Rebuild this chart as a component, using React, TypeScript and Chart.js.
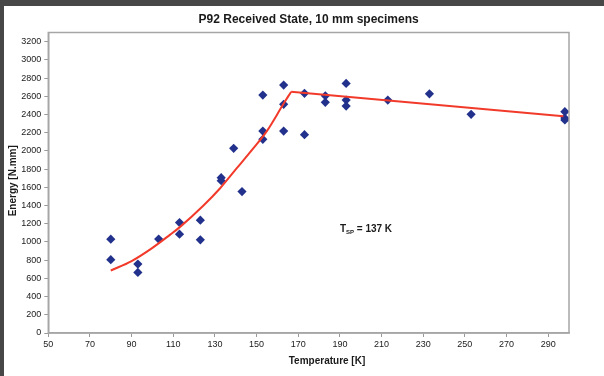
import React, { useEffect, useRef } from "react";
import { Chart, registerables } from "chart.js";

Chart.register(...registerables);

const titleText = "P92 Received State, 10 mm specimens";
const xAxisTitle = "Temperature [K]";
const yAxisTitle = "Energy [N.mm]";

const sampleTemps = [80, 80, 93, 93, 103, 113, 113, 123, 123, 133, 133, 139, 143, 153, 153, 153, 163, 163, 163, 173, 173, 183, 183, 193, 193, 193, 213, 233, 253, 298, 298, 298];
const sampleEnergies = [1030, 805, 757, 665, 1031, 1213, 1085, 1239, 1023, 1706, 1672, 2028, 1553, 2613, 2218, 2127, 2723, 2511, 2218, 2632, 2178, 2605, 2533, 2741, 2558, 2492, 2558, 2627, 2401, 2430, 2360, 2339];

const fitTemps = [80, 90, 100, 108.5, 113, 124.5, 132.5, 140.5, 148.5, 155, 163, 166.6];
const fitEnergies = [686, 790, 935, 1080, 1160, 1400, 1590, 1810, 2030, 2220, 2520, 2650];

const shelfTemps = [166.6, 297.3];
const shelfEnergies = [2650, 2380];

const xTicks = [50, 70, 90, 110, 130, 150, 170, 190, 210, 230, 250, 270, 290];
const yTicks = [0, 200, 400, 600, 800, 1000, 1200, 1400, 1600, 1800, 2000, 2200, 2400, 2600, 2800, 3000, 3200];
const xRange = [50, 300];
const yRange = [0, 3300];

const noteMain = "T";
const noteSub = "SP";
const noteRest = " = 137 K";
const notePos = [190, 1150];

const FONT = "'Liberation Sans', Arial, sans-serif";

const zip = (xs: number[], ys: number[]) => xs.map((x, i) => ({ x, y: ys[i] }));

const decorPlugin = {
  id: "decor",
  afterDatasetsDraw(chart: any) {
    const { ctx, chartArea, scales } = chart;
    ctx.save();
    ctx.strokeStyle = "#a6a6a6";
    ctx.lineWidth = 1.5;
    ctx.strokeRect(chartArea.left, chartArea.top, chartArea.right - chartArea.left, chartArea.bottom - chartArea.top);

    ctx.fillStyle = "#1a1a1a";
    ctx.font = `bold 12px ${FONT}`;
    ctx.textAlign = "center";
    ctx.textBaseline = "middle";
    ctx.fillText(titleText, (chartArea.left + chartArea.right) / 2, 14);

    ctx.font = `bold 10px ${FONT}`;
    ctx.fillText(xAxisTitle, 323, 355);

    ctx.save();
    ctx.translate(9, (chartArea.top + chartArea.bottom) / 2 - 2);
    ctx.rotate(-Math.PI / 2);
    ctx.fillText(yAxisTitle, 0, 0);
    ctx.restore();

    const px = scales.x.getPixelForValue(notePos[0]);
    const py = scales.y.getPixelForValue(notePos[1]);
    ctx.textAlign = "left";
    ctx.textBaseline = "alphabetic";
    ctx.font = `bold 10px ${FONT}`;
    ctx.fillText(noteMain, px, py + 4);
    let w = ctx.measureText(noteMain).width;
    ctx.font = `bold 6px ${FONT}`;
    ctx.fillText(noteSub, px + w, py + 6);
    w += ctx.measureText(noteSub).width;
    ctx.font = `bold 10px ${FONT}`;
    ctx.fillText(noteRest, px + w, py + 4);
    ctx.restore();
  },
};

export default function App() {
  const ref = useRef<HTMLCanvasElement | null>(null);

  useEffect(() => {
    document.body.style.margin = "0";
    document.body.style.background = "#474747";
    document.body.style.backgroundImage = "radial-gradient(circle, #383838 0 7px, transparent 8px)";
    document.body.style.backgroundSize = "29px 29px";
    const canvas = ref.current;
    if (!canvas) return;
    const chart = new Chart(canvas, {
      type: "scatter",
      data: {
        datasets: [
          {
            label: "fit",
            data: zip(fitTemps, fitEnergies),
            showLine: true,
            borderColor: "#f23a2a",
            borderWidth: 2,
            pointRadius: 0,
            cubicInterpolationMode: "monotone",
            fill: false,
          },
          {
            label: "shelf",
            data: zip(shelfTemps, shelfEnergies),
            showLine: true,
            borderColor: "#f23a2a",
            borderWidth: 2,
            pointRadius: 0,
            fill: false,
          },
          {
            label: "samples",
            data: zip(sampleTemps, sampleEnergies),
            pointStyle: "rectRot",
            pointRadius: 4.6,
            backgroundColor: "#22318c",
            borderColor: "#22318c",
            borderWidth: 0,
            showLine: false,
          },
        ],
      },
      options: {
        animation: false,
        responsive: false,
        devicePixelRatio: 1,
        layout: { padding: { top: 26.5, right: 35, left: 0, bottom: 0 } },
        plugins: {
          legend: { display: false },
          title: { display: false },
          tooltip: { enabled: false },
        },
        scales: {
          x: {
            type: "linear",
            min: xRange[0],
            max: xRange[1],
            afterBuildTicks: (s: any) => {
              s.ticks = xTicks.map((v) => ({ value: v }));
            },
            afterFit: (s: any) => {
              s.height = 43;
            },
            grid: { display: true, drawOnChartArea: false, drawTicks: true, tickLength: 4, color: "#9a9a9a" },
            border: { display: true, color: "#a6a6a6", width: 1.5 },
            ticks: {
              font: { family: FONT, size: 9 },
              color: "#1a1a1a",
              padding: 2,
              maxRotation: 0,
              autoSkip: false,
              callback: (v: any) => String(v),
            },
          },
          y: {
            type: "linear",
            min: yRange[0],
            max: yRange[1],
            afterBuildTicks: (s: any) => {
              s.ticks = yTicks.map((v) => ({ value: v }));
            },
            afterFit: (s: any) => {
              s.width = 44.3;
            },
            grid: { display: true, drawOnChartArea: false, drawTicks: true, tickLength: 4, color: "#9a9a9a" },
            border: { display: true, color: "#a6a6a6", width: 1.5 },
            ticks: {
              font: { family: FONT, size: 9 },
              color: "#1a1a1a",
              padding: 3,
              autoSkip: false,
              callback: (v: any) => String(v),
            },
          },
        },
      },
      plugins: [decorPlugin],
    } as any);
    return () => chart.destroy();
  }, []);

  return (
    <div style={{ position: "absolute", left: 4, top: 6, width: 600, height: 370, background: "#ffffff" }}>
      <canvas ref={ref} width={600} height={370} style={{ display: "block", width: 600, height: 370 }} />
    </div>
  );
}
